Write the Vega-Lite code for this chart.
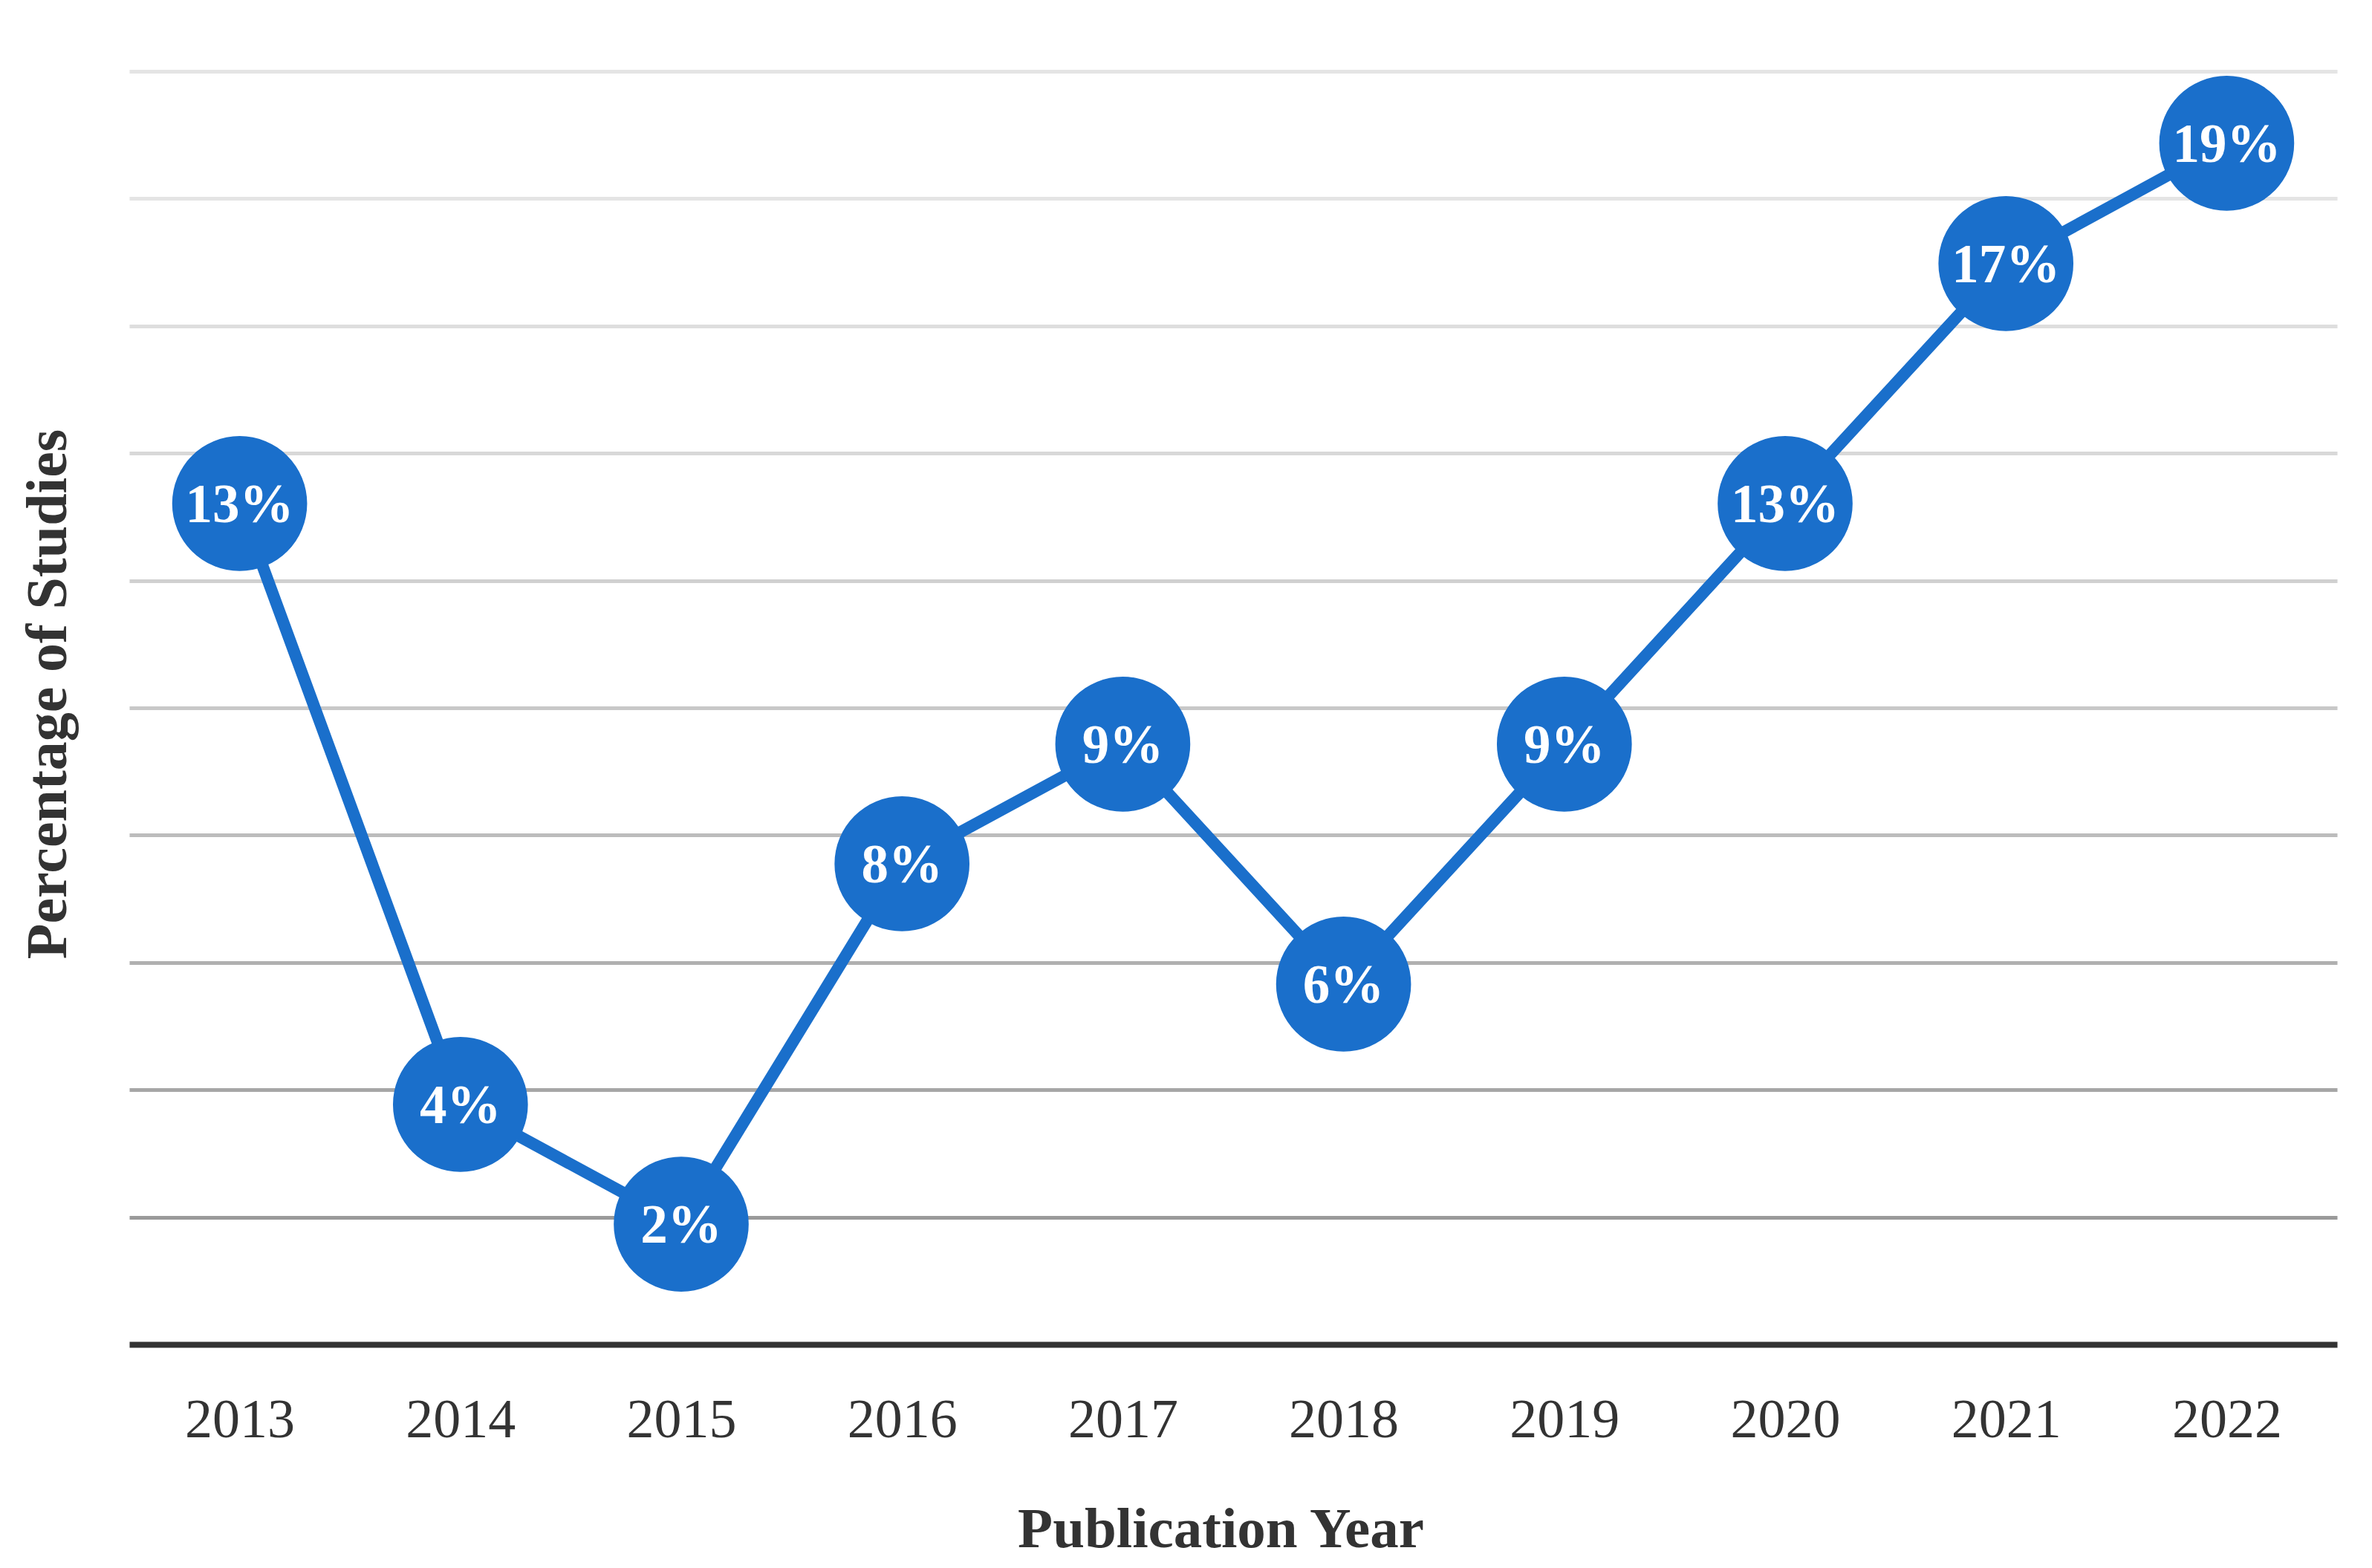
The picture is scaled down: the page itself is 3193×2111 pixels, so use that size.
{
  "$schema": "https://vega.github.io/schema/vega-lite/v6.json",
  "width": 2972,
  "height": 1714,
  "autosize": "none",
  "padding": {"left": 174, "top": 96, "right": 47, "bottom": 301},
  "background": "#ffffff",
  "config": {"view": {"stroke": null}, "font": "Liberation Serif"},
  "data": {"values": [
    {"year": "2013", "pct": 13.21, "label": "13%"},
    {"year": "2014", "pct": 3.77, "label": "4%"},
    {"year": "2015", "pct": 1.89, "label": "2%"},
    {"year": "2016", "pct": 7.55, "label": "8%"},
    {"year": "2017", "pct": 9.43, "label": "9%"},
    {"year": "2018", "pct": 5.66, "label": "6%"},
    {"year": "2019", "pct": 9.43, "label": "9%"},
    {"year": "2020", "pct": 13.21, "label": "13%"},
    {"year": "2021", "pct": 16.98, "label": "17%"},
    {"year": "2022", "pct": 18.87, "label": "19%"}
  ]},
  "encoding": {
    "x": {
      "field": "year", "type": "ordinal", "sort": null,
      "scale": {"type": "point", "padding": 0.5},
      "axis": {
        "title": "Publication Year", "titleFont": "Liberation Serif", "titleFontSize": 77, "titleFontWeight": "bold",
        "titleColor": "#333333", "titlePadding": 72, "titleX": 1469, "titleAlign": "center",
        "labelFont": "Liberation Serif", "labelFontSize": 74, "labelColor": "#333333", "labelPadding": 66,
        "labelAngle": 0, "ticks": false, "domain": true, "domainColor": "#333333", "domainWidth": 8, "grid": false
      }
    },
    "y": {
      "field": "pct", "type": "quantitative",
      "scale": {"domain": [0, 20], "nice": false},
      "axis": {
        "title": "Percentage of Studies", "titleFont": "Liberation Serif", "titleFontSize": 78, "titleFontWeight": "bold",
        "titleColor": "#333333", "titlePadding": 70, "titleY": 838,
        "labels": false, "ticks": false, "domain": false, "grid": true,
        "values": [2, 4, 6, 8, 10, 12, 14, 16, 18, 20],
        "gridWidth": 5,
        "gridColor": {"condition": [
          {"test": "datum.value <= 2", "value": "#9a9a9a"},
          {"test": "datum.value <= 4", "value": "#a6a6a6"},
          {"test": "datum.value <= 6", "value": "#b0b0b0"},
          {"test": "datum.value <= 8", "value": "#bcbcbc"},
          {"test": "datum.value <= 10", "value": "#c8c8c8"},
          {"test": "datum.value <= 12", "value": "#d0d0d0"},
          {"test": "datum.value <= 14", "value": "#d8d8d8"},
          {"test": "datum.value <= 16", "value": "#dedede"}
        ], "value": "#e4e4e4"}
      }
    }
  },
  "layer": [
    {"mark": {"type": "line", "color": "#1A6FCB", "strokeWidth": 16}},
    {"mark": {"type": "circle", "color": "#1A6FCB", "opacity": 1, "size": 33000}},
    {"mark": {"type": "text", "color": "#ffffff", "font": "Liberation Serif", "fontWeight": "bold", "fontSize": 73, "baseline": "middle", "dy": 3},
     "encoding": {"text": {"field": "label"}}}
  ]
}
